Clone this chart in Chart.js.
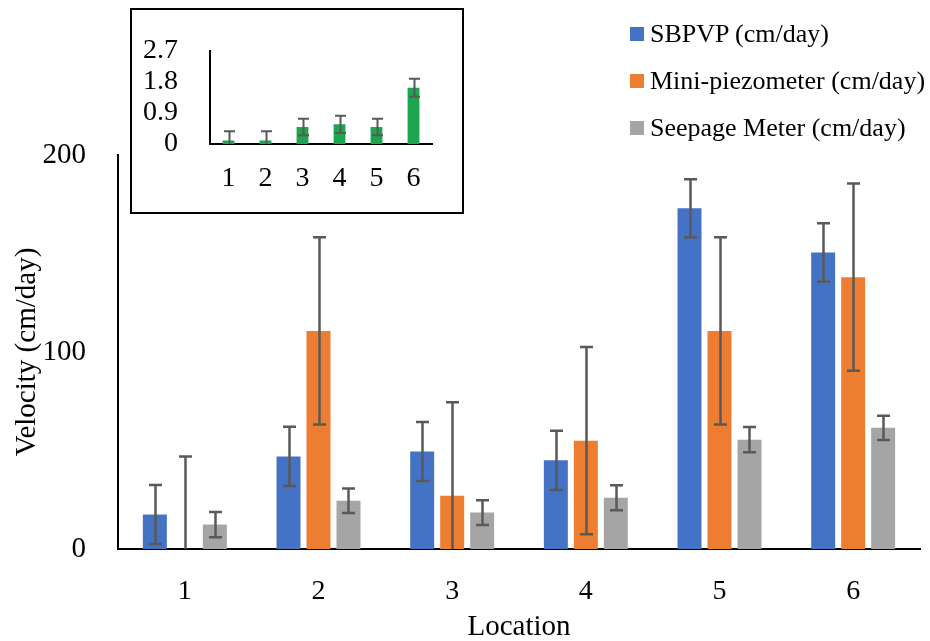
<!DOCTYPE html>
<html>
<head>
<meta charset="utf-8">
<script src="https://cdn.jsdelivr.net/npm/chart.js@4.4.1/dist/chart.umd.min.js"></script>
<style>
  body { margin: 0; background: #fff; }
  #wrap { position: relative; width: 930px; height: 641px; overflow: hidden; }
  #mainChart { position: absolute; left: 0; top: 0; }
  #insetBox { position: absolute; left: 130px; top: 8px; width: 330px; height: 202px; border: 2px solid #000; background: #fff; }
  #insetChart { position: absolute; left: 0; top: 0; }
  #legend { position: absolute; left: 630px; top: 10px; font-family: 'Liberation Serif', serif; font-size: 26px; color: #000; }
  .item { display: flex; align-items: center; height: 47px; white-space: nowrap; }
  .sw { width: 14px; height: 14px; margin-right: 6px; }
</style>
</head>
<body>
<div id="wrap">
  <canvas id="mainChart" width="930" height="641"></canvas>
  <div id="insetBox"><canvas id="insetChart" width="330" height="202"></canvas></div>
  <div id="legend"></div>
</div>
<script>
// main chart data
const locations = ['1', '2', '3', '4', '5', '6'];
const seriesNames = ['SBPVP (cm/day)', 'Mini-piezometer (cm/day)', 'Seepage Meter (cm/day)'];
const seriesColors = ['#4472C4', '#ED7D31', '#A5A5A5'];
const sbpvp = [17.5, 47, 49.5, 45, 173, 150.5];
const sbpvpErr = [15, 15, 15, 15, 14.7, 14.8];
const miniPiezo = [0, 110.7, 27, 55, 110.7, 138];
const miniPiezoErr = [47, 47.5, 47.5, 47.5, 47.5, 47.5];
const seepage = [12.4, 24.5, 18.5, 26, 55.5, 61.5];
const seepageErr = [6.4, 6.2, 6.3, 6.3, 6.4, 6.2];
const mainTicks = [0, 100, 200];

// inset chart data
const insetVals = [0.1, 0.1, 0.49, 0.57, 0.49, 1.63];
const insetErr = [0.27, 0.27, 0.24, 0.25, 0.24, 0.26];
const insetTicks = [0, 0.9, 1.8, 2.7];
const insetColor = '#1DA550';

const fontFamily = "'Liberation Serif', 'Times New Roman', serif";
const errColor = '#595959';

// draws the error bars on top of the bars
const errorBars = {
    id: 'errorBars',
    afterDatasetsDraw(chart, args, opts) {
        const ctx = chart.ctx;
        const yScale = chart.scales.y;
        ctx.save();
        ctx.strokeStyle = errColor;
        ctx.lineWidth = opts.lineWidth || 2;
        chart.data.datasets.forEach((ds, di) => {
            if (!ds.errors) return;
            const meta = chart.getDatasetMeta(di);
            meta.data.forEach((bar, i) => {
                const v = ds.data[i];
                const e = ds.errors[i];
                const hi = yScale.getPixelForValue(v + e);
                const lo = yScale.getPixelForValue(Math.max(v - e, 0));
                const x = Math.round(bar.x) + 0.5;
                const cap = opts.cap / 2;
                ctx.beginPath();
                ctx.moveTo(x, hi);
                ctx.lineTo(x, lo);
                ctx.moveTo(x - cap, hi);
                ctx.lineTo(x + cap, hi);
                if (v - e > 0) {
                    ctx.moveTo(x - cap, lo);
                    ctx.lineTo(x + cap, lo);
                }
                ctx.stroke();
            });
        });
        ctx.restore();
    }
};

const mainData = [sbpvp, miniPiezo, seepage];
const mainErrs = [sbpvpErr, miniPiezoErr, seepageErr];

new Chart(document.getElementById('mainChart'), {
    type: 'bar',
    data: {
        labels: locations,
        datasets: seriesNames.map((name, i) => ({
            label: name,
            data: mainData[i],
            errors: mainErrs[i],
            backgroundColor: seriesColors[i],
            barPercentage: 0.8,
            categoryPercentage: 0.673
        }))
    },
    options: {
        responsive: false,
        animation: false,
        layout: { padding: { top: 155, right: 10, left: 0, bottom: 0 } },
        plugins: {
            legend: { display: false },
            tooltip: { enabled: false },
            errorBars: { cap: 13, lineWidth: 2.5 }
        },
        scales: {
            x: {
                grid: { display: false },
                border: { color: '#000', width: 2 },
                ticks: { color: '#000', font: { family: fontFamily, size: 28 }, padding: 18 },
                title: { display: true, text: 'Location', color: '#000', font: { family: fontFamily, size: 29 }, padding: { top: 0, bottom: -4 } },
                afterFit: s => { s.height = 92; }
            },
            y: {
                min: 0,
                max: 200,
                afterBuildTicks: s => { s.ticks = mainTicks.map(v => ({ value: v })); },
                grid: { display: false },
                border: { color: '#000', width: 2 },
                ticks: { color: '#000', font: { family: fontFamily, size: 29 }, padding: 24, autoSkip: false },
                title: { display: true, text: 'Velocity (cm/day)', color: '#000', font: { family: fontFamily, size: 29 }, padding: { top: 10, bottom: 0 } },
                afterFit: s => { s.width = 118; }
            }
        }
    },
    plugins: [errorBars]
});

new Chart(document.getElementById('insetChart'), {
    type: 'bar',
    data: {
        labels: locations,
        datasets: [{
            data: insetVals,
            errors: insetErr,
            backgroundColor: insetColor,
            barPercentage: 0.32,
            categoryPercentage: 1
        }]
    },
    options: {
        responsive: false,
        animation: false,
        layout: { padding: { top: 32, right: 30, left: 0, bottom: 0 } },
        plugins: {
            legend: { display: false },
            tooltip: { enabled: false },
            errorBars: { cap: 11, lineWidth: 2 }
        },
        scales: {
            x: {
                grid: { display: false },
                border: { color: '#000', width: 2 },
                ticks: { color: '#000', font: { family: fontFamily, size: 28 }, padding: 10, autoSkip: false },
                afterFit: s => { s.height = 68; }
            },
            y: {
                min: 0,
                max: 2.7,
                afterBuildTicks: s => { s.ticks = insetTicks.map(v => ({ value: v })); },
                grid: { display: false },
                border: { color: '#000', width: 2 },
                ticks: { color: '#000', font: { family: fontFamily, size: 28 }, padding: 24, autoSkip: false, callback: (v, i) => String(insetTicks[i]) },
                afterFit: s => { s.width = 78; }
            }
        }
    },
    plugins: [errorBars]
});

// legend built from the series names and colours
const legend = document.getElementById('legend');
seriesNames.forEach((name, i) => {
    const item = document.createElement('div');
    item.className = 'item';
    const sw = document.createElement('span');
    sw.className = 'sw';
    sw.style.background = seriesColors[i];
    const txt = document.createElement('span');
    txt.textContent = name;
    item.appendChild(sw);
    item.appendChild(txt);
    legend.appendChild(item);
});
</script>
</body>
</html>
